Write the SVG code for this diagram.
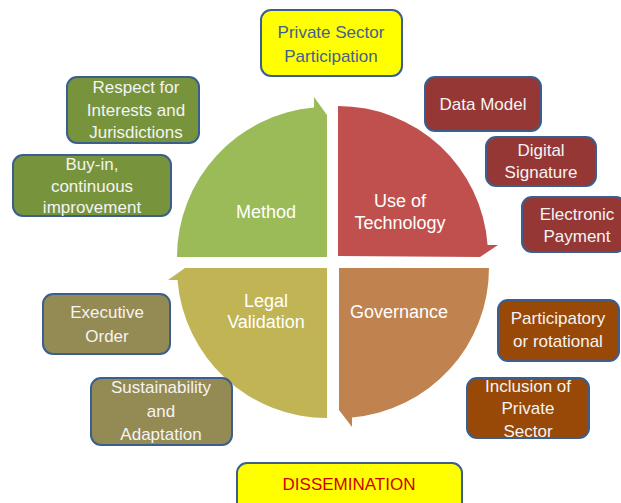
<svg xmlns="http://www.w3.org/2000/svg" width="621" height="503" viewBox="0 0 621 503">
<style>
.box{stroke:#3A5F8E;stroke-width:2}
.t{font-family:"Liberation Sans",Arial,sans-serif;font-size:17px;fill:#F4F4F4;text-anchor:middle}
.c{font-family:"Liberation Sans",Arial,sans-serif;font-size:18px;fill:#FFFFFF;text-anchor:middle}
.g{fill:#77933C}.r{fill:#953735}.o{fill:#984807}.k{fill:#948A54}.y{fill:#FFFF00}
</style>
<rect width="621" height="503" fill="#FFFFFF"/>
<g id="connectors"/>
<g id="method">
<path d="M327,257 L177,257 A150,150 0 0 1 314,107.6 L314,97 L327,115 Z" fill="#9BBB59"/>
<text class="c" x="266" y="218">Method</text>
</g>
<g id="technology">
<path d="M338,256 L338,106 A150,150 0 0 1 487.6,245 L498,245 L480,257 Z" fill="#C0504D"/>
<text class="c" x="400" y="207">Use of</text>
<text class="c" x="400" y="229">Technology</text>
</g>
<g id="governance">
<path d="M339,268 L489,268 A150,150 0 0 1 352,417.4 L352,427 L339,410 Z" fill="#C0834F"/>
<text class="c" x="399" y="318">Governance</text>
</g>
<g id="legal">
<path d="M327,268 L327,418 A150,150 0 0 1 177.5,280 L168,280 L185,268 Z" fill="#C0B455"/>
<text class="c" x="266" y="307">Legal</text>
<text class="c" x="266" y="328">Validation</text>
</g>
<g id="private-sector">
<rect class="box y" x="261" y="10" width="141" height="66" rx="10"/>
<text class="t" x="331" y="38" style="fill:#44618C">Private Sector</text>
<text class="t" x="331" y="62" style="fill:#44618C">Participation</text>
</g>
<g id="respect">
<rect class="box g" x="67" y="77" width="132" height="66" rx="10"/>
<text class="t" x="136" y="93">Respect for</text>
<text class="t" x="136" y="116">Interests and</text>
<text class="t" x="136" y="138">Jurisdictions</text>
</g>
<g id="buy-in">
<rect class="box g" x="13" y="155" width="158" height="61" rx="10"/>
<text class="t" x="92" y="170">Buy-in,</text>
<text class="t" x="92" y="192">continuous</text>
<text class="t" x="92" y="213">improvement</text>
</g>
<g id="data-model">
<rect class="box r" x="425" y="77" width="116" height="54" rx="10"/>
<text class="t" x="483" y="110">Data Model</text>
</g>
<g id="digital-signature">
<rect class="box r" x="486" y="137" width="110" height="49" rx="10"/>
<text class="t" x="541" y="156">Digital</text>
<text class="t" x="541" y="178">Signature</text>
</g>
<g id="electronic-payment">
<rect class="box r" x="522" y="197" width="104" height="55" rx="10"/>
<text class="t" x="577" y="220">Electronic</text>
<text class="t" x="577" y="242">Payment</text>
</g>
<g id="executive-order">
<rect class="box k" x="43" y="294" width="127" height="60" rx="10"/>
<text class="t" x="107" y="318">Executive</text>
<text class="t" x="107" y="342">Order</text>
</g>
<g id="sustainability">
<rect class="box k" x="91" y="378" width="141" height="67" rx="10"/>
<text class="t" x="161" y="393">Sustainability</text>
<text class="t" x="161" y="417">and</text>
<text class="t" x="161" y="440">Adaptation</text>
</g>
<g id="participatory">
<rect class="box o" x="498" y="300" width="121" height="61" rx="10"/>
<text class="t" x="558" y="324">Participatory</text>
<text class="t" x="558" y="347">or rotational</text>
</g>
<g id="inclusion">
<rect class="box o" x="467" y="378" width="122" height="60" rx="10"/>
<text class="t" x="528" y="392">Inclusion of</text>
<text class="t" x="528" y="414">Private</text>
<text class="t" x="528" y="437">Sector</text>
</g>
<g id="dissemination">
<rect class="box y" x="237" y="463" width="225" height="50" rx="10"/>
<text class="t" x="349" y="490" style="fill:#CC0000">DISSEMINATION</text>
</g>
</svg>
